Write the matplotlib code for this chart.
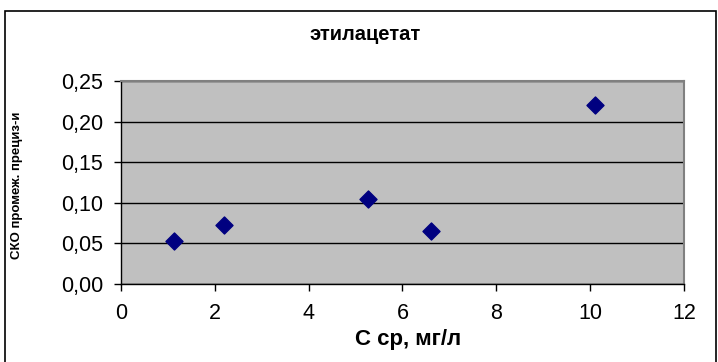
import matplotlib
matplotlib.use("Agg")
import matplotlib.pyplot as plt
from matplotlib.patches import Rectangle
from matplotlib.ticker import FuncFormatter

# данные
c_sr = [1.13, 2.2, 5.27, 6.61, 10.1]
sko = [0.053, 0.073, 0.105, 0.065, 0.220]
x_ticks = [0, 2, 4, 6, 8, 10, 12]
y_ticks = [0.00, 0.05, 0.10, 0.15, 0.20, 0.25]

plt.rcParams['font.family'] = ['Liberation Sans', 'DejaVu Sans']

W, H = 718, 362
fig = plt.figure(figsize=(W / 100, H / 100), dpi=100)
ax = fig.add_axes([0.1685, 0.2155, 0.784, 0.5605])

# рамка диаграммы
fig.patches.append(Rectangle((5 / W, -0.01), 1 - 7 / W, 1 - 11 / H + 0.01,
                             transform=fig.transFigure, fill=False,
                             edgecolor='black', linewidth=1.2))

ax.set_facecolor('#C0C0C0')
ax.scatter(c_sr, sko, marker='D', s=75, color='#000080', zorder=3)

ax.set_xlim(0, 12)
ax.set_ylim(0, 0.25)
ax.set_xticks(x_ticks)
ax.set_yticks(y_ticks)
ax.yaxis.set_major_formatter(FuncFormatter(lambda v, p: f"{v:.2f}".replace('.', ',')))
ax.grid(axis='y', color='black', linewidth=1)
ax.set_axisbelow(True)

for s in ['top', 'right']:
    ax.spines[s].set_color('#808080')
    ax.spines[s].set_linewidth(1.5)
for s in ['left', 'bottom']:
    ax.spines[s].set_color('black')
    ax.spines[s].set_linewidth(1)

ax.tick_params(direction='out', length=5, width=1, labelsize=15.5)
ax.tick_params(axis='y', pad=8)
ax.tick_params(axis='x', pad=9)

# подписи
fig.text(365 / W, 1 - 35 / H, "этилацетат", fontsize=14.5, fontweight='bold',
         ha='center', va='center')
fig.text(408 / W, 1 - 340 / H, "С ср, мг/л", fontsize=16, fontweight='bold',
         ha='center', va='center')
fig.text(17 / W, 1 - 185 / H, "СКО промеж. прециз-и", fontsize=9.5,
         fontweight='bold', rotation=90, ha='center', va='center')

fig.savefig("out.png", dpi=100)
